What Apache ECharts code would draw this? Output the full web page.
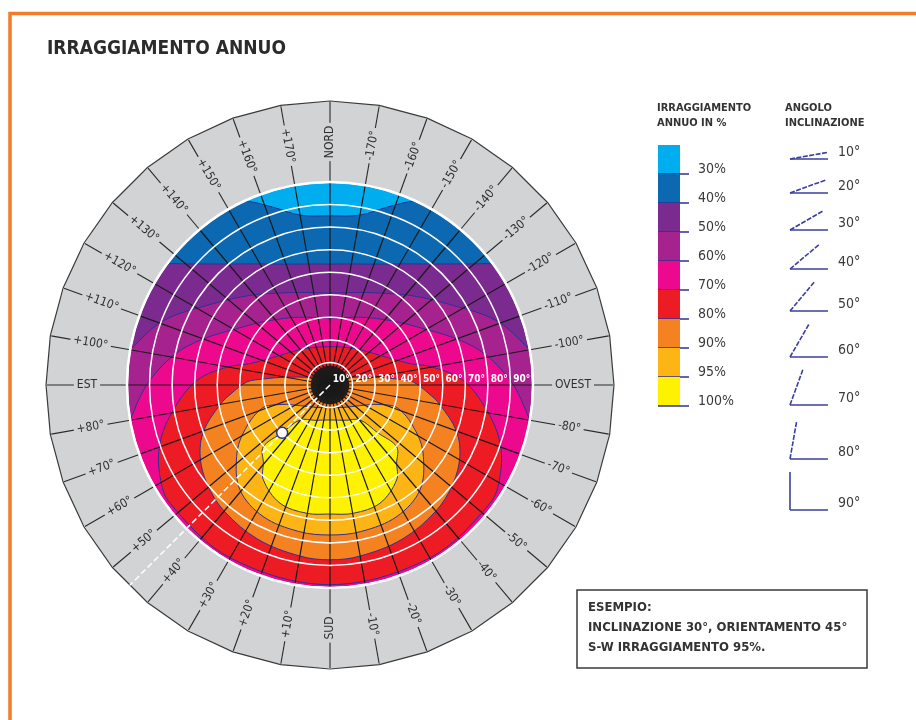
<!DOCTYPE html>
<html>
<head>
<meta charset="utf-8">
<title>Irraggiamento annuo</title>
<script src="https://cdn.jsdelivr.net/npm/echarts@6/dist/echarts.min.js"></script>
<style>
  html, body { margin: 0; padding: 0; background: #fff; }
  #chart { width: 916px; height: 720px; }
</style>
</head>
<body>
<div id="chart"></div>
<script>
const NARROW = '"Liberation Sans Narrow", "DejaVu Sans Condensed", Roboto, sans-serif';

// livelli di irraggiamento (legenda)
const levelLabels = ['30%', '40%', '50%', '60%', '70%', '80%', '90%', '95%', '100%'];
const levelColors = ['#00aeef', '#0b68b1', '#7b2b8f', '#a6238f', '#ec098d', '#ed1c24', '#f58220', '#fdb515', '#fff200'];

// contorni: [orientamento, inclinazione]
// lato EST (orientamento +), il lato OVEST e' speculare rispetto a SUD
// regioni che contengono il centro: da SUD (0) a NORD (180)
const region40 = [[0, 100], [60, 100], [120, 100], [145, 98], [155, 90], [162, 83], [170, 76.5], [180, 75]];
const region50 = [[0, 100], [60, 100], [110, 100], [122, 95], [126.5, 90], [130, 83.5], [140, 70], [150, 62], [160, 57], [170, 54.5], [180, 53.6]];
const region60 = [[0, 100], [60, 100], [90, 100], [96, 95], [100, 90], [111, 79.3], [125, 63], [138, 53.4], [150, 47], [165, 42.5], [180, 40.7]];
const region70 = [[0, 100], [50, 100], [74, 96], [80, 90], [91.6, 79.8], [105, 65.8], [127, 44.3], [145, 36], [160, 32], [180, 29.6]];
const region80 = [[0, 88.5], [30, 88.5], [53.5, 88.2], [61.7, 85.6], [71.1, 79.7], [80.9, 70.4], [92, 59], [100, 46], [105, 36.7], [120, 26], [140, 20.5], [160, 17.8], [180, 17]];
const region90 = [[0, 77.5], [10, 77], [25, 75.5], [40, 73], [51, 70], [61, 65.8], [70, 59.6], [80, 49.4], [85, 44], [92, 37], [95, 30], [100, 20], [110, 10], [120, 7], [150, 4], [180, 3.5]];
// regioni chiuse: dal bordo alto (SUD, inclinazione bassa) al bordo basso
const region95 = [[0, 10], [30, 11.5], [55, 16], [68, 23], [71, 32], [61, 44], [52.5, 52.2], [40.6, 61.3], [27, 65.4], [12, 66.4], [0, 66.5]];
const region100 = [[0, 15.5], [23, 17], [40.6, 20.4], [45, 30], [47.2, 40.3], [40.5, 45.5], [35.1, 51.4], [22.9, 56.9], [10.3, 57.8], [0, 57.2]];
const regions = [region40, region50, region60, region70, region80, region90, region95, region100];

// assi
const ringAngles = [0, 10, 20, 30, 40, 50, 60, 70, 80, 90, 100, 110, 120, 130, 140, 150, 160, 170, 180,
  -170, -160, -150, -140, -130, -120, -110, -100, -90, -80, -70, -60, -50, -40, -30, -20, -10];
const ringLabels = ['SUD', '+10°', '+20°', '+30°', '+40°', '+50°', '+60°', '+70°', '+80°', 'EST',
  '+100°', '+110°', '+120°', '+130°', '+140°', '+150°', '+160°', '+170°', 'NORD',
  '-170°', '-160°', '-150°', '-140°', '-130°', '-120°', '-110°', '-100°', 'OVEST',
  '-80°', '-70°', '-60°', '-50°', '-40°', '-30°', '-20°', '-10°'];
const tiltTicks = [10, 20, 30, 40, 50, 60, 70, 80, 90];
const tiltLabels = ['10°', '20°', '30°', '40°', '50°', '60°', '70°', '80°', '90°'];

// esempio
const exampleTilt = 30;
const exampleOrient = 45;

const RING_OUT = 125.5; // bordo esterno della corona, in gradi di inclinazione

function mirrorLoop(half) {
  const back = half.slice(1, -1).reverse().map(p => [-p[0], p[1]]);
  return half.concat(back);
}

function renderRegion(params, api) {
  const i = params.dataIndex;
  const c = api.coord([0, 0]);
  if (i === 0) {
    const e = api.coord([90, 0]);
    return {
      type: 'circle',
      shape: { cx: c[0], cy: c[1], r: Math.hypot(e[0] - c[0], e[1] - c[1]) },
      style: { fill: levelColors[0] }
    };
  }
  const pts = mirrorLoop(regions[i - 1]).map(p => api.coord([p[1], p[0]]));
  return {
    type: 'polygon',
    shape: { points: pts, smooth: 0.35 },
    style: { fill: levelColors[i], stroke: '#2e3192', lineWidth: 1 }
  };
}

function renderRing(params, api) {
  const c = api.coord([0, 0]);
  const e = api.coord([90, 0]);
  const o = api.coord([RING_OUT, 0]);
  const rIn = Math.hypot(e[0] - c[0], e[1] - c[1]);
  const rOut = Math.hypot(o[0] - c[0], o[1] - c[1]);
  const children = [];
  children.push({ type: 'ring', shape: { cx: c[0], cy: c[1], r: rOut, r0: rIn - 1 }, style: { fill: '#d1d3d4' } });
  const outer = [];
  for (let a = -180; a < 180; a += 10) outer.push(api.coord([RING_OUT + 0.4, a]));
  children.push({ type: 'polygon', shape: { points: outer }, style: { fill: null, stroke: '#3a3a3a', lineWidth: 1.2 } });
  ringAngles.forEach((a, k) => {
    const p1 = api.coord([90, a]);
    const p2 = api.coord([RING_OUT, a]);
    children.push({ type: 'line', shape: { x1: p1[0], y1: p1[1], x2: p2[0], y2: p2[1] }, style: { stroke: '#2a2a2a', lineWidth: 1.1 } });
    const p = api.coord([(90 + RING_OUT) / 2, a]);
    let ang = Math.atan2(-(p[1] - c[1]), p[0] - c[0]);
    if (ang > Math.PI / 2 + 1e-6) ang -= Math.PI;
    else if (ang <= -Math.PI / 2 + 1e-6) ang += Math.PI;
    children.push({
      type: 'text', x: p[0], y: p[1], rotation: ang,
      style: {
        text: ringLabels[k], x: 0, y: 0, align: 'center', verticalAlign: 'middle',
        font: '12px ' + NARROW, fill: '#2f2f2f',
        backgroundColor: '#d1d3d4', padding: [0, 3]
      }
    });
  });
  children.push({ type: 'circle', shape: { cx: c[0], cy: c[1], r: rIn }, style: { fill: null, stroke: '#fff', lineWidth: 2.5 } });
  return { type: 'group', children: children };
}

function renderOverlay(params, api) {
  const children = [];
  // raggiera fitta attorno al centro
  const c0 = api.coord([0, 0]);
  for (let a = -180; a < 180; a += 2.5) {
    const q = api.coord([8.5, a]);
    children.push({ type: 'line', shape: { x1: c0[0], y1: c0[1], x2: q[0], y2: q[1] }, style: { stroke: '#1b1b1b', lineWidth: 1.1 } });
  }
  const c = api.coord([0, exampleOrient]);
  const far = api.coord([RING_OUT, exampleOrient]);
  children.push({ type: 'line', shape: { x1: c[0], y1: c[1], x2: far[0], y2: far[1] }, style: { stroke: '#fff', lineWidth: 1.5, lineDash: [6, 3] } });
  const d = api.coord([exampleTilt, exampleOrient]);
  children.push({ type: 'circle', shape: { cx: d[0], cy: d[1], r: 5.5 }, style: { fill: '#fff', stroke: '#2e3192', lineWidth: 1.5 } });
  tiltTicks.forEach((t, k) => {
    const p = api.coord([t - 5, -90]);
    children.push({
      type: 'text', x: p[0], y: p[1] - 6,
      style: { text: tiltLabels[k], x: 0, y: 0, align: 'center', verticalAlign: 'middle', font: 'bold 10px ' + NARROW, fill: '#fff' }
    });
  });
  return { type: 'group', children: children };
}

// legenda e cornice
const graphics = [];
graphics.push({ type: 'polyline', shape: { points: [[10, 720], [10, 13.5], [916, 13.5]] }, style: { stroke: '#f47b2a', lineWidth: 3.5, fill: null } });
graphics.push({ type: 'text', x: 657, y: 108, style: { text: 'IRRAGGIAMENTO', font: 'bold 11px ' + NARROW, fill: '#333', verticalAlign: 'middle' } });
graphics.push({ type: 'text', x: 657, y: 123, style: { text: 'ANNUO IN %', font: 'bold 11px ' + NARROW, fill: '#333', verticalAlign: 'middle' } });
graphics.push({ type: 'text', x: 785, y: 108, style: { text: 'ANGOLO', font: 'bold 11px ' + NARROW, fill: '#333', verticalAlign: 'middle' } });
graphics.push({ type: 'text', x: 785, y: 123, style: { text: 'INCLINAZIONE', font: 'bold 11px ' + NARROW, fill: '#333', verticalAlign: 'middle' } });
levelLabels.forEach((lab, i) => {
  const y0 = 145 + i * 29;
  graphics.push({ type: 'rect', shape: { x: 658, y: y0, width: 22, height: 29 }, style: { fill: levelColors[i] } });
  graphics.push({ type: 'line', shape: { x1: 658, y1: y0 + 29, x2: 689, y2: y0 + 29 }, style: { stroke: '#2e3192', lineWidth: 1.5 } });
  graphics.push({ type: 'text', x: 698, y: y0 + 24, style: { text: lab, font: '14px ' + NARROW, fill: '#3a3a3a', verticalAlign: 'middle' } });
});
const iconBaseY = [159, 193, 230, 269, 311, 357, 405, 459, 510];
tiltTicks.forEach((t, i) => {
  const by = iconBaseY[i];
  const rad = t * Math.PI / 180;
  graphics.push({ type: 'line', shape: { x1: 790, y1: by, x2: 828, y2: by }, style: { stroke: '#3b3f9e', lineWidth: 1.6 } });
  graphics.push({ type: 'line', shape: { x1: 790, y1: by, x2: 790 + 38 * Math.cos(rad), y2: by - 38 * Math.sin(rad) }, style: { stroke: '#3b3f9e', lineWidth: 1.6, lineDash: t === 90 ? null : [5, 1.5] } });
  graphics.push({ type: 'text', x: 838, y: by - 7, style: { text: tiltLabels[i], font: '14px ' + NARROW, fill: '#3a3a3a', verticalAlign: 'middle' } });
});
graphics.push({ type: 'rect', shape: { x: 577, y: 590, width: 290, height: 78 }, style: { fill: '#fff', stroke: '#3a3a3a', lineWidth: 1.5 } });
['ESEMPIO:', 'INCLINAZIONE 30°, ORIENTAMENTO 45°', 'S-W IRRAGGIAMENTO 95%.'].forEach((s, i) => {
  graphics.push({ type: 'text', x: 588, y: 608 + i * 20, style: { text: s, font: 'bold 13px ' + NARROW, fill: '#333', verticalAlign: 'middle' } });
});

const chart = echarts.init(document.getElementById('chart'));
chart.setOption({
  animation: false,
  backgroundColor: '#fff',
  title: {
    text: 'IRRAGGIAMENTO ANNUO', left: 47, top: 40, padding: 0,
    textStyle: { fontFamily: NARROW, fontWeight: 'bold', fontSize: 19, color: '#2b2b2b' }
  },
  polar: { center: [330, 385], radius: 203 },
  angleAxis: {
    type: 'value', min: -180, max: 180, interval: 10, startAngle: 90, clockwise: true, z: 3,
    axisLine: { show: false }, axisTick: { show: false }, axisLabel: { show: false },
    splitLine: { show: true, lineStyle: { color: '#1b1b1b', width: 1.2 } }
  },
  radiusAxis: {
    type: 'value', min: 0, max: 90, interval: 10, z: 4,
    axisLine: { show: false }, axisTick: { show: false }, axisLabel: { show: false },
    splitLine: { show: true, lineStyle: { color: '#fff', width: 1.5 } }
  },
  graphic: { elements: graphics },
  series: [
    {
      type: 'custom', coordinateSystem: 'polar', z: 2, silent: true,
      data: levelLabels.map(l => ({ name: l, value: [0, 0] })),
      renderItem: renderRegion
    },
    {
      type: 'custom', coordinateSystem: 'polar', z: 6, silent: true,
      data: [[0, 0]],
      renderItem: renderRing
    },
    {
      type: 'custom', coordinateSystem: 'polar', z: 7, silent: true,
      data: [[0, 0]],
      renderItem: renderOverlay
    }
  ]
});
</script>
</body>
</html>
